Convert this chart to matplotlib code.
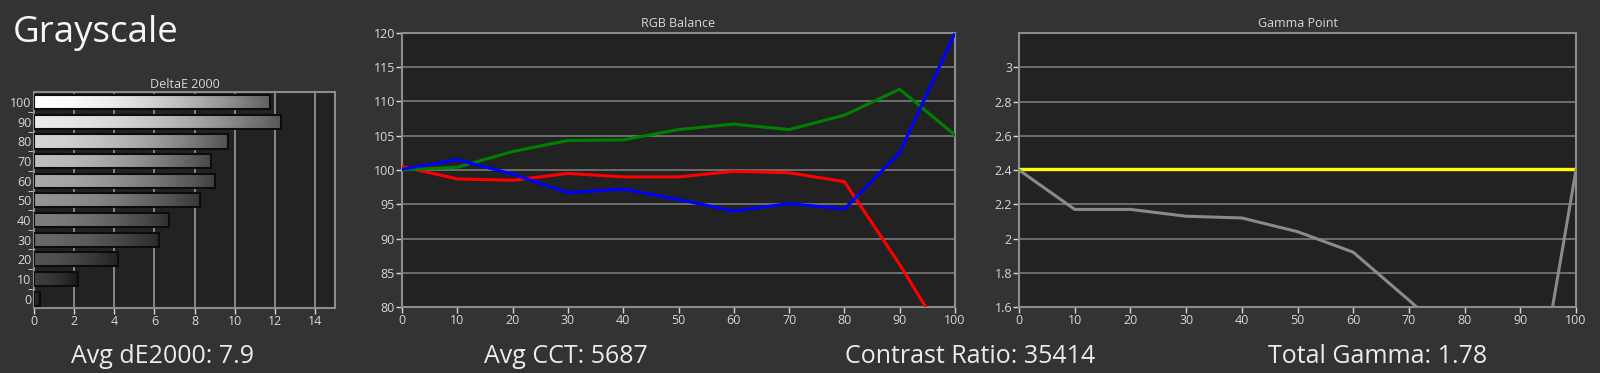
import numpy as np
import matplotlib
matplotlib.use('Agg')
import matplotlib.pyplot as plt

plt.rcParams['font.family'] = ['Open Sans', 'DejaVu Sans']

# DeltaE 2000 per grey level
levels = [0, 10, 20, 30, 40, 50, 60, 70, 80, 90, 100]
delta_e = [0.3, 2.18, 4.2, 6.24, 6.71, 8.27, 9.0, 8.8, 9.68, 12.3, 11.75]

# RGB balance
steps = [0, 10, 20, 30, 40, 50, 60, 70, 80, 90, 100]
red = [100.5, 98.7, 98.5, 99.5, 99.0, 99.0, 99.8, 99.6, 98.3, 86.2, 73.0]
green = [100.0, 100.4, 102.7, 104.3, 104.4, 105.9, 106.7, 105.9, 108.0, 111.8, 105.1]
blue = [100.1, 101.5, 99.4, 96.7, 97.2, 95.7, 94.0, 95.1, 94.3, 102.5, 120.0]

# Gamma point
gamma = [2.40, 2.17, 2.17, 2.13, 2.12, 2.04, 1.92, 1.64, 1.35, 0.5, 2.40]
gamma_target = 2.405

summary = ['Avg dE2000: 7.9', 'Avg CCT: 5687', 'Contrast Ratio: 35414', 'Total Gamma: 1.78']

BG = '#333333'
PLOT_BG = '#222222'
GRID = '#7a7a7a'
FRAME = '#8c8c8c'
TXT = '#d8d8d8'

fig = plt.figure(figsize=(16, 3.73), dpi=100, facecolor=BG)


def style_axes(ax):
    ax.set_facecolor(PLOT_BG)
    for s in ax.spines.values():
        s.set_color(FRAME)
        s.set_linewidth(1.5)
    ax.tick_params(colors=TXT, labelsize=9, length=4, width=1, pad=1)


# --- DeltaE bars ---
ax1 = fig.add_axes([34 / 1600, 1 - 308 / 373, 301 / 1600, 216 / 373])
style_axes(ax1)
ypos = np.arange(len(levels))
for y, v, lev in zip(ypos, delta_e, levels):
    lum = (40 + 215 * lev / 100) / 255
    t = np.linspace(0, 1, 200)
    grad = lum * (1 - 0.62 * t ** 1.8)
    img = np.dstack([grad, grad, grad])
    ax1.imshow(img, extent=[0, v, y - 0.36, y + 0.36], aspect='auto', zorder=2)
    ax1.barh(y, v, height=0.72, facecolor='none', edgecolor='#0c0c0c', linewidth=1.5, zorder=3)
ax1.set_xlim(0, 15)
ax1.set_ylim(-0.48, 10.52)
ax1.set_xticks(range(0, 15, 2))
ax1.set_yticks(ypos)
ax1.set_yticklabels([str(l) for l in levels])
ax1.set_yticks(ypos[:-1] + 0.5, minor=True)
ax1.tick_params(axis='y', which='major', length=0, pad=2)
ax1.tick_params(axis='y', which='minor', length=4, color=TXT)
ax1.grid(axis='x', color='#9a9a9a', linewidth=1.2, zorder=0)
ax1.set_axisbelow(True)
ax1.set_title('DeltaE 2000', color=TXT, fontsize=9, pad=3)

# --- RGB balance ---
ax2 = fig.add_axes([402 / 1600, 1 - 307 / 373, 553 / 1600, 274 / 373])
style_axes(ax2)
ax2.plot(steps, red, color='#ff0000', lw=2.2, zorder=3)
ax2.plot(steps, green, color='#008000', lw=2.2, zorder=3)
ax2.plot(steps, blue, color='#0000ff', lw=2.2, zorder=4)
ax2.set_xlim(0, 100)
ax2.set_ylim(80, 120)
ax2.set_xticks(steps)
ax2.set_yticks(range(80, 121, 5))
ax2.grid(axis='y', color=GRID, linewidth=1.2, zorder=0)
ax2.set_axisbelow(True)
ax2.set_title('RGB Balance', color=TXT, fontsize=9, pad=4)

# --- Gamma point ---
ax3 = fig.add_axes([1019 / 1600, 1 - 307 / 373, 557 / 1600, 274 / 373])
style_axes(ax3)
ax3.plot(steps, [gamma_target] * len(steps), color='#ffff00', lw=2.4, zorder=3)
ax3.plot(steps, gamma, color='#8a8a8a', lw=2.2, zorder=4)
ax3.set_xlim(0, 100)
ax3.set_ylim(1.6, 3.2)
ax3.set_xticks(steps)
gticks = [1.6, 1.8, 2.0, 2.2, 2.4, 2.6, 2.8, 3.0]
ax3.set_yticks(gticks)
ax3.set_yticklabels(['%g' % g for g in gticks])
ax3.grid(axis='y', color=GRID, linewidth=1.2, zorder=0)
ax3.set_axisbelow(True)
ax3.set_title('Gamma Point', color=TXT, fontsize=9, pad=4)

# headline and summary
fig.text(13 / 1600, 1 - 33 / 373, 'Grayscale', color='#f4f6fa', fontsize=26.5,
         ha='left', va='center')
for x, s in zip([163, 566, 970, 1378], summary):
    fig.text(x / 1600, 1 - 363 / 373, s, color='#ececec', fontsize=18,
             ha='center', va='baseline')

fig.savefig('out.png', dpi=100, facecolor=BG)
